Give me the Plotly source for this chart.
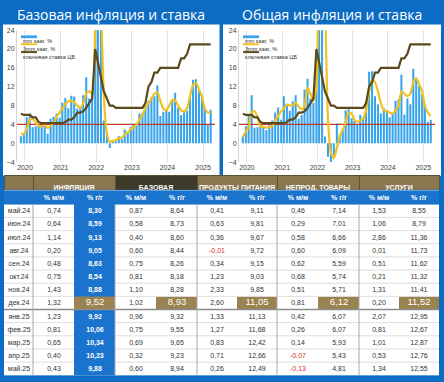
import plotly.graph_objects as go
import pandas as pd
import numpy as np

# ---------------- chart data ----------------
months = pd.date_range("2020-01-01", periods=65, freq="MS")
year_labels = ["2020", "2021", "2022", "2023", "2024", "2025"]
y_ticks = [-4, 0, 4, 8, 12, 16, 20, 24]

core_mm_saar = [
    1.5, 1.8, 5.5, 6.3, 3.4, 3.6, 3.8, 3.7, 3.9, 2.0, 5.2, 5.6,
    6.3, 5.4, 8.6, 9.6, 7.4, 10.1, 9.9, 7.3, 7.5, 10.2, 14.0, 9.5,
    11.0, 30.0, 60.0, 24.5, 4.8, 2.5, -1.0, 0.3, 0.4, 1.5, 0.9, 2.9,
    2.5, 3.5, 4.0, 4.3, 6.3, 6.4, 7.9, 9.0, 9.7, 10.0, 12.3, 5.8,
    6.7, 7.2, 6.7, 9.0, 10.7, 7.6, 6.0, 6.6, 6.9, 9.8, 13.5, 13.6,
    11.2, 10.2, 7.6, 4.0, 7.1,
]
core_3mm_saar = [
    2.0, 2.0, 3.0, 5.0, 5.1, 4.4, 3.7, 3.6, 3.8, 3.2, 3.7, 4.3,
    5.6, 6.5, 7.3, 8.3, 8.9, 9.0, 8.7, 8.0, 7.5, 8.5, 10.6, 11.0,
    10.6, 25.0, 45.0, 30.0, 10.0, 2.0, 0.3, 0.5, 0.7, 1.0, 1.2, 1.8,
    2.3, 3.0, 3.3, 4.0, 5.0, 6.0, 7.5, 8.5, 9.5, 10.5, 10.8, 9.0,
    7.3, 7.0, 8.0, 9.2, 9.1, 8.0, 7.0, 6.8, 7.5, 10.0, 12.4, 12.8,
    11.5, 9.8, 7.5, 6.5, 6.6,
]
cpi_mm_saar = [
    1.5, 3.6, 5.8, 10.2, 3.3, 3.4, 3.8, 3.5, 2.8, 3.8, 4.8, 6.5,
    7.6, 5.0, 10.0, 8.4, 6.9, 8.9, 10.2, 5.2, 6.0, 11.4, 13.7, 9.5,
    8.6, 16.0, 60.0, 26.0, 1.4, -2.9, -4.0, -2.5, 4.2, 1.8, 3.0, 7.0,
    7.2, 5.3, 4.7, 4.0, 6.0, 5.5, 9.0, 15.2, 15.3, 10.0, 8.3, 6.3,
    7.4, 7.0, 5.5, 6.2, 9.0, 9.3, 14.6, 6.1, 9.5, 8.3, 15.8, 13.9,
    12.2, 10.4, 8.2, 4.5, 5.0,
]
cpi_3mm_saar = [
    1.3, 2.5, 3.5, 6.5, 6.8, 5.5, 3.5, 3.5, 3.3, 3.4, 3.6, 4.8,
    5.8, 6.8, 7.4, 8.2, 8.0, 8.1, 8.6, 7.8, 7.2, 8.0, 11.8, 10.5,
    9.0, 12.0, 40.0, 45.0, 30.0, 5.0, -2.0, -3.2, -1.0, 1.5, 2.8, 4.5,
    6.5, 6.3, 5.0, 4.5, 4.8, 5.2, 7.0, 11.0, 13.5, 13.0, 11.0, 8.5,
    7.0, 6.8, 6.5, 6.3, 7.0, 8.0, 11.0, 10.5, 10.0, 10.5, 13.0, 13.8,
    12.5, 11.0, 8.0, 6.5, 5.8,
]
key_rate = [
    6.25, 6.0, 6.0, 6.0, 5.5, 5.5, 4.5, 4.25, 4.25, 4.25, 4.25, 4.25,
    4.25, 4.25, 4.25, 4.5, 5.0, 5.0, 5.5, 6.5, 6.5, 6.75, 7.5, 8.5,
    9.5, 20.0, 17.0, 14.0, 11.0, 9.5, 8.0, 8.0, 7.5, 7.5, 7.5, 7.5,
    7.5, 7.5, 7.5, 7.5, 7.5, 7.5, 8.5, 12.0, 13.0, 15.0, 15.0, 16.0,
    16.0, 16.0, 16.0, 16.0, 16.0, 16.0, 18.0, 18.0, 19.0, 21.0, 21.0, 21.0,
    21.0, 21.0, 21.0, 21.0, 21.0,
]
inflation_target = 4
legend_labels = ["mm saar, %", "3mm saar, %", "ключевая ставка ЦБ"]

# ---------------- table data ----------------
row_labels = ["май.24", "июн.24", "июл.24", "авг.24", "сен.24", "окт.24", "ноя.24",
              "дек.24", "янв.25", "фев.25", "мар.25", "апр.25", "май.25"]
group_headers = ["ИНФЛЯЦИЯ", "БАЗОВАЯ", "ПРОДУКТЫ ПИТАНИЯ", "НЕПРОД. ТОВАРЫ", "УСЛУГИ"]
sub_headers = ["% м/м", "% г/г"]
infl_mm = [0.74, 0.64, 1.14, 0.20, 0.48, 0.75, 1.43, 1.32, 1.23, 0.81, 0.65, 0.40, 0.43]
infl_yy = [8.30, 8.59, 9.13, 9.05, 8.63, 8.54, 8.88, 9.52, 9.92, 10.06, 10.34, 10.23, 9.88]
base_mm = [0.87, 0.58, 0.40, 0.60, 0.75, 0.81, 1.10, 1.02, 0.96, 0.75, 0.69, 0.32, 0.60]
base_yy = [8.64, 8.73, 8.60, 8.44, 8.26, 8.18, 8.28, 8.93, 9.32, 9.55, 9.65, 9.23, 8.94]
food_mm = [0.41, 0.63, 0.36, -0.01, 0.34, 1.23, 2.33, 2.60, 1.33, 1.27, 0.83, 0.71, 0.26]
food_yy = [9.11, 9.81, 9.67, 9.72, 9.15, 9.03, 9.85, 11.05, 11.13, 11.68, 12.42, 12.66, 12.49]
nonfood_mm = [0.46, 0.29, 0.58, 0.60, 0.62, 0.68, 0.51, 0.81, 0.42, 0.26, 0.14, -0.07, -0.13]
nonfood_yy = [7.14, 7.01, 6.66, 6.09, 5.59, 5.74, 5.71, 6.12, 6.07, 6.07, 5.93, 5.43, 4.81]
serv_mm = [1.53, 1.06, 2.86, 0.01, 0.51, 0.21, 1.31, 0.20, 2.07, 0.81, 1.01, 0.53, 1.34]
serv_yy = [8.55, 8.79, 11.36, 11.73, 11.62, 11.32, 11.41, 11.52, 12.95, 12.67, 12.87, 12.76, 12.55]
highlight_row = "дек.24"

# ---------------- styling ----------------
W, H = 444, 382
BLUE_FRAME = "#0c6cc4"
BAR_BLUE = "#36a3ea"
YELLOW = "#f2c01f"
BROWN = "#5c4a1c"
TARGET_RED = "#c0392b"
GOLD = "#9a8350"
HDR_BROWN = "#8a7750"
HDR_DARK = "#3d3a29"
HDR_BLUE = "#1a73cc"
TXT = "#333333"
NEG_RED = "#d62c2c"
FONT = "Liberation Sans"


def px_x(p):
    return p / W


def px_y(p):
    return 1 - p / H


fig = go.Figure()

panels = [
    dict(mm=core_mm_saar, m3=core_3mm_saar, xa="x", ya="y",
         title="Базовая инфляция и ставка", px0=3, px1=219.5, lx=21),
    dict(mm=cpi_mm_saar, m3=cpi_3mm_saar, xa="x2", ya="y2",
         title="Общая инфляция и ставка", px0=223, px1=441, lx=243),
]

shapes = []
annotations = []
for p in panels:
    fig.add_trace(go.Bar(x=months, y=p["mm"], name=legend_labels[0], marker_color=BAR_BLUE,
                         marker_line_width=0, xaxis=p["xa"], yaxis=p["ya"], showlegend=False))
    fig.add_trace(go.Scatter(x=[months[0] - pd.DateOffset(months=3), months[-1] + pd.DateOffset(months=3)],
                             y=[inflation_target, inflation_target], mode="lines",
                             line=dict(color=TARGET_RED, width=1.3), showlegend=False,
                             hoverinfo="skip", xaxis=p["xa"], yaxis=p["ya"]))
    fig.add_trace(go.Scatter(x=months, y=p["m3"], name=legend_labels[1], mode="lines",
                             line=dict(color=YELLOW, width=2.2, shape="spline", smoothing=0.6),
                             xaxis=p["xa"], yaxis=p["ya"], showlegend=False))
    fig.add_trace(go.Scatter(x=months, y=key_rate, name=legend_labels[2], mode="lines",
                             line=dict(color=BROWN, width=2.2),
                             xaxis=p["xa"], yaxis=p["ya"], showlegend=False))
    shapes.append(dict(type="rect", xref="paper", yref="paper", x0=px_x(p["px0"]), x1=px_x(p["px1"]),
                       y0=px_y(175), y1=px_y(21), fillcolor="white", line_width=0, layer="below"))
    annotations.append(dict(text=p["title"], xref="paper", yref="paper",
                            x=px_x((p["px0"] + p["px1"]) / 2), y=px_y(10.5), showarrow=False,
                            xanchor="center", yanchor="middle",
                            font=dict(family="Open Sans", size=14, color="white")))
    lx = p["lx"]
    shapes.append(dict(type="rect", xref="paper", yref="paper", x0=px_x(lx), x1=px_x(lx + 16),
                       y0=px_y(34.8), y1=px_y(32.0), fillcolor=BAR_BLUE, line_width=0))
    shapes.append(dict(type="line", xref="paper", yref="paper", x0=px_x(lx), x1=px_x(lx + 16),
                       y0=px_y(41), y1=px_y(41), line=dict(color=YELLOW, width=2)))
    shapes.append(dict(type="line", xref="paper", yref="paper", x0=px_x(lx), x1=px_x(lx + 16),
                       y0=px_y(49), y1=px_y(49), line=dict(color=BROWN, width=2)))
    for lab, ly in zip(legend_labels, [37.5, 45.5, 53.5]):
        annotations.append(dict(text=lab, xref="paper", yref="paper", x=px_x(lx), y=px_y(ly),
                                showarrow=False, xanchor="left", yanchor="middle",
                                font=dict(family=FONT, size=5.5, color="#333")))

tickvals = [pd.Timestamp(f"{y}-02-12") for y in year_labels]
axis_common = dict(type="date", range=[pd.Timestamp("2019-11-22"), pd.Timestamp("2025-06-14")],
                   tickvals=tickvals, ticktext=year_labels, showgrid=True, gridcolor="#e4e4e4",
                   gridwidth=1, zeroline=False, showline=False, ticks="",
                   tickfont=dict(family=FONT, size=7, color="#404040"))
yaxis_common = dict(range=[-4, 24], tickvals=y_ticks, showgrid=False, zeroline=False,
                    showline=True, linecolor="#d4d4d4", linewidth=1, ticks="",
                    tickfont=dict(family=FONT, size=7, color="#404040"))
dom_y = [px_y(161), px_y(26.7)]

# ---------------- table ----------------
col_w = [29, 41, 41, 41, 41, 40, 40, 41, 41, 40, 40]
tbl_x = [px_x(4), px_x(439)]
grp_w = [col_w[0]] + [col_w[1 + 2 * i] + col_w[2 + 2 * i] for i in range(5)]
HDR1_H, HDR2_H, ROW_H = 15, 14, 13.4
tbl_top = 175

# group header row
fig.add_trace(go.Table(
    domain=dict(x=tbl_x, y=[px_y(tbl_top + HDR1_H), px_y(tbl_top)]),
    columnwidth=grp_w,
    header=dict(values=[""] + [f"<b>{g.replace(' ', chr(160))}</b>" for g in group_headers],
                fill_color=[HDR_BROWN, HDR_BROWN, HDR_DARK, HDR_BROWN, HDR_BROWN, HDR_BROWN],
                line=dict(color="#5b5035", width=1), height=HDR1_H, align="center",
                font=dict(family=FONT, size=7, color="white")),
    cells=dict(values=[[] for _ in grp_w]),
))


def fmt(v):
    return f"{v:.2f}".replace(".", ",")


def span(t, color, size=None, bold=False):
    st = f"color:{color}" + (f";font-size:{size}px" if size else "")
    t = f"<b>{t}</b>" if bold else t
    return f"<span style='{st}'>{t}</span>"


series = [infl_mm, infl_yy, base_mm, base_yy, food_mm, food_yy, nonfood_mm, nonfood_yy, serv_mm, serv_yy]
hi = row_labels.index(highlight_row)

# codes: 0 white, 1 blue, 2 gold
z = [[1] * len(col_w)]
text = [[""] + [span(sub_headers[i % 2], "white", bold=True) for i in range(10)]]
for ri, lab in enumerate(row_labels):
    zr, tr = [0], [lab]
    for ci, s in enumerate(series):
        v = s[ri]
        is_yy = ci % 2 == 1
        if is_yy and ri == hi:
            zr.append(2)
            tr.append(span(fmt(v), "white", size=9.5))
        elif ci == 1:
            zr.append(1)
            tr.append(span(fmt(v), "white", bold=True))
        else:
            zr.append(0)
            tr.append(span(fmt(v), NEG_RED) if v < 0 else fmt(v))
    z.append(zr)
    text.append(tr)

x_edges = list(np.concatenate([[0], np.cumsum(col_w)]))
row_h = [HDR2_H] + [ROW_H] * len(row_labels)
y_edges = list(np.concatenate([[0], np.cumsum(row_h)]))
tbl2_top = tbl_top + HDR1_H
tbl2_bottom = tbl2_top + y_edges[-1]

fig.add_trace(go.Heatmap(
    z=z, x=x_edges, y=y_edges, text=text, texttemplate="%{text}",
    textfont=dict(family=FONT, size=7, color=TXT),
    colorscale=[[0, "white"], [0.25, "white"], [0.25, HDR_BLUE], [0.75, HDR_BLUE],
                [0.75, GOLD], [1, GOLD]],
    zmin=0, zmax=2, showscale=False, hoverinfo="skip", xgap=0, ygap=0,
    xaxis="x3", yaxis="y3",
))

# row rules (light), separator after highlight row (dark), group separators
for k in range(2, len(row_h)):
    yv = y_edges[k]
    if k == hi + 2:
        shapes.append(dict(type="line", xref="x3", yref="y3", x0=x_edges[0], x1=x_edges[-1],
                           y0=yv, y1=yv, line=dict(color="#8c8c8c", width=1.5)))
    else:
        for xa0, xa1 in [(x_edges[0], x_edges[2]), (x_edges[3], x_edges[-1])]:
            shapes.append(dict(type="line", xref="x3", yref="y3", x0=xa0, x1=xa1,
                               y0=yv, y1=yv, line=dict(color="#dedede", width=1)))
for gi in [1, 3, 5, 7, 9]:
    shapes.append(dict(type="line", xref="x3", yref="y3", x0=x_edges[gi], x1=x_edges[gi],
                       y0=y_edges[1], y1=y_edges[-1], line=dict(color="#a8a8a8", width=1)))

fig.update_layout(
    width=W, height=H, margin=dict(l=0, r=0, t=0, b=0),
    paper_bgcolor=BLUE_FRAME, plot_bgcolor="white",
    barmode="overlay", bargap=0.25, showlegend=False,
    xaxis=dict(domain=[px_x(17), px_x(215)], anchor="y", **axis_common),
    yaxis=dict(domain=dom_y, anchor="x", **yaxis_common),
    xaxis2=dict(domain=[px_x(239), px_x(435)], anchor="y2", **axis_common),
    yaxis2=dict(domain=dom_y, anchor="x2", **yaxis_common),
    xaxis3=dict(domain=tbl_x, anchor="y3", range=[x_edges[0], x_edges[-1]], visible=False,
                fixedrange=True),
    yaxis3=dict(domain=[px_y(tbl2_bottom), px_y(tbl2_top)], anchor="x3",
                range=[y_edges[-1], y_edges[0]], visible=False, fixedrange=True),
    shapes=shapes, annotations=annotations,
)

fig.write_html("out.html", config={"displayModeBar": False},
               post_script="document.body.style.margin='0';document.body.style.overflow='hidden';")
